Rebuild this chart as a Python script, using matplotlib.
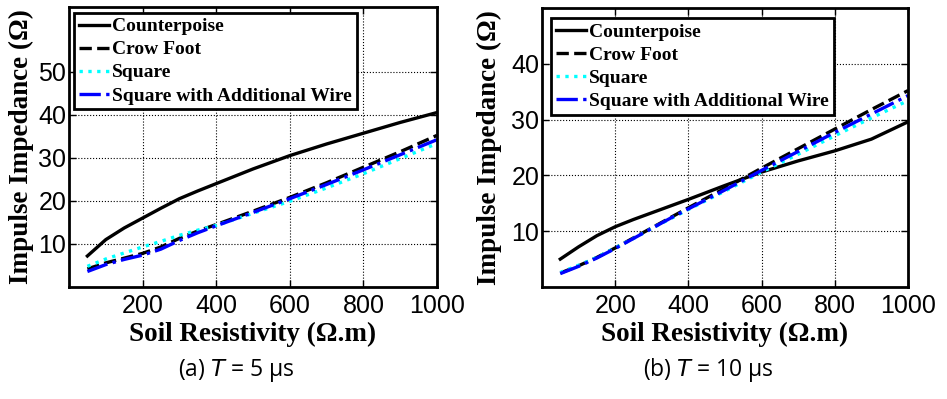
import numpy as np
import matplotlib.pyplot as plt

plt.rcParams['font.family'] = ['Liberation Sans', 'DejaVu Sans']

# soil resistivity (ohm.m)
rho = [50, 100, 150, 200, 250, 300, 350, 400, 500, 600, 700, 800, 900, 1000]

# (a) T = 5 us
cp_5 = [7.2, 11.0, 13.7, 16.0, 18.3, 20.5, 22.3, 24.0, 27.4, 30.5, 33.2, 35.7, 38.2, 40.5]
cf_5 = [4.2, 5.6, 6.7, 7.8, 9.3, 11.3, 13.0, 14.5, 17.6, 20.8, 24.2, 27.8, 31.4, 35.2]
sq_5 = [4.8, 6.5, 7.9, 9.3, 10.6, 12.0, 13.2, 14.3, 17.1, 19.9, 23.0, 26.3, 29.8, 33.3]
sw_5 = [3.6, 5.2, 6.4, 7.4, 8.8, 10.8, 12.6, 14.2, 17.3, 20.5, 23.8, 27.2, 30.7, 34.2]

# (b) T = 10 us
cp_10 = [5.0, 7.2, 9.2, 10.8, 12.1, 13.3, 14.5, 15.7, 18.2, 20.6, 22.6, 24.4, 26.5, 29.6]
cf_10 = [2.5, 3.8, 5.3, 7.0, 8.8, 10.6, 12.4, 14.2, 17.7, 21.3, 24.8, 28.3, 31.8, 35.2]
sq_10 = [2.6, 3.9, 5.3, 7.0, 8.7, 10.5, 12.2, 13.9, 17.2, 20.6, 23.8, 27.1, 30.3, 33.4]
sw_10 = [2.4, 3.7, 5.2, 6.9, 8.7, 10.5, 12.3, 14.0, 17.4, 20.9, 24.3, 27.7, 31.0, 34.3]

names = ['Counterpoise', 'Crow Foot', 'Square', 'Square with Additional Wire']
styles = [('k', '-'), ('k', '--'), ('cyan', ':'), ('b', '-.')]
xticks = [200, 400, 600, 800, 1000]

fig = plt.figure(figsize=(9.47, 3.99), dpi=100)
ax1 = fig.add_axes([69/947, 112/399, 368/947, 280/399])
ax2 = fig.add_axes([542/947, 112/399, 366/947, 279/399])

panels = [(ax1, [cp_5, cf_5, sq_5, sw_5], 65, [10, 20, 30, 40, 50], '(a) ', '5 μs', 236,
           (0.014, 0.979)),
          (ax2, [cp_10, cf_10, sq_10, sw_10], 50, [10, 20, 30, 40], '(b) ', '10 μs', 708,
           (0.025, 0.964))]

for ax, series, ytop, yticks, tag, tval, capx, anchor in panels:
    for s, (c, ls), nm in zip(series, styles, names):
        ax.plot(rho, s, color=c, linestyle=ls, lw=2.4, label=nm)
    ax.set_xlim(0, 1000)
    ax.set_ylim(0, ytop)
    ax.set_xticks(xticks)
    ax.set_yticks(yticks)
    ax.grid(True, color='k', linestyle=':', lw=0.8)
    ax.tick_params(direction='in', top=True, right=True, length=5, width=1,
                   labelsize=18)
    ax.tick_params(axis='y', pad=2)
    ax.tick_params(axis='x', pad=5)
    for sp in ax.spines.values():
        sp.set_linewidth(2)
    ax.set_xlabel('Soil Resistivity (Ω.m)', family='Liberation Serif',
                  fontweight='bold', fontsize=19.5)
    ax.xaxis.set_label_coords(0.5, -0.125)
    ax.set_ylabel('Impulse Impedance (Ω)', family='Liberation Serif',
                  fontweight='bold', fontsize=19.5)
    leg = ax.legend(loc='upper left', bbox_to_anchor=anchor,
                    prop={'family': 'Liberation Serif', 'weight': 'bold', 'size': 14},
                    handlelength=1.55, handletextpad=0.15, labelspacing=0.28,
                    borderpad=0.25, borderaxespad=0, fancybox=False,
                    framealpha=1, edgecolor='k')
    leg.get_frame().set_linewidth(2)
    fig.text(capx/947, 1 - 370/399, tag + '$\\it{T}$ = ' + tval,
             family='Open Sans', fontsize=16.5, ha='center', va='center')

ax1.yaxis.set_label_coords(-0.095, 0.5)
ax2.yaxis.set_label_coords(-0.109, 0.5)

plt.savefig('out.png', dpi=100)
